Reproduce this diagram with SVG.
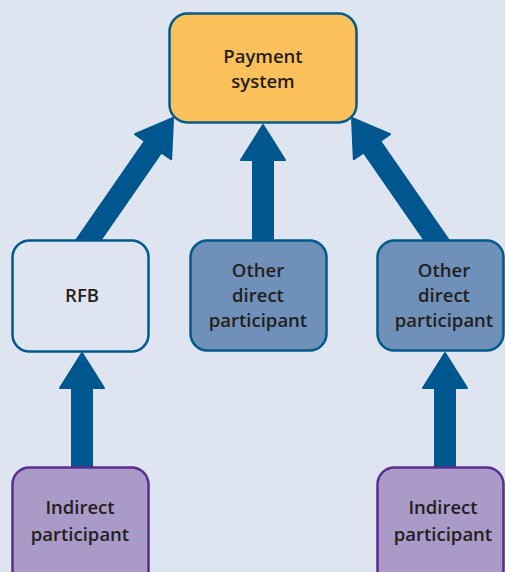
<svg xmlns="http://www.w3.org/2000/svg" width="505" height="572" viewBox="0 0 505 572">
<defs>
<style>
.bg{fill:#dee4f0}
.arrow{fill:#00568e;stroke:#00568e;stroke-width:2;stroke-linejoin:round}
.box{stroke-width:2.5}
.pay{fill:#fcc15b;stroke:#005a8c}
.rfb{fill:#dee4f0;stroke:#005a8c}
.dir{fill:#6f91b9;stroke:#005a8c}
.ind{fill:#a99ac8;stroke:#5a2d8f}
text{font-family:"Open Sans","Noto Sans","Liberation Sans",sans-serif;font-weight:600;font-size:18.5px;fill:#231f20;text-anchor:middle}
</style>
</defs>
<rect class="bg" x="0" y="0" width="505" height="572"/>
<g id="connectors">
<path class="arrow" transform="translate(173,118) rotate(34.7)" d="M0,0 L22,35 L10,35 L10,160 L-10,160 L-10,35 L-22,35 Z"/>
<path class="arrow" transform="translate(352,118) rotate(-34.7)" d="M0,0 L22,35 L10,35 L10,160 L-10,160 L-10,35 L-22,35 Z"/>
<path class="arrow" transform="translate(263,125)" d="M0,0 L22,35 L10,35 L10,125 L-10,125 L-10,35 L-22,35 Z"/>
<path class="arrow" transform="translate(82,353)" d="M0,0 L22,35 L10,35 L10,124 L-10,124 L-10,35 L-22,35 Z"/>
<path class="arrow" transform="translate(445,353)" d="M0,0 L22,35 L10,35 L10,124 L-10,124 L-10,35 L-22,35 Z"/>
</g>
<g id="payment-system">
<rect class="box pay" x="169.5" y="13.5" width="187" height="109" rx="18"/>
<text x="263" y="63">Payment</text>
<text x="263" y="88">system</text>
</g>
<g id="rfb">
<rect class="box rfb" x="12.5" y="240.5" width="136" height="111" rx="17"/>
<text x="82" y="302">RFB</text>
</g>
<g id="other-direct-1">
<rect class="box dir" x="190.5" y="240.5" width="136" height="110" rx="17"/>
<text x="258" y="277">Other</text>
<text x="258" y="302">direct</text>
<text x="258" y="327">participant</text>
</g>
<g id="other-direct-2">
<rect class="box dir" x="377.5" y="240.5" width="126" height="110" rx="17"/>
<text x="444" y="277">Other</text>
<text x="444" y="302">direct</text>
<text x="444" y="327">participant</text>
</g>
<g id="indirect-1">
<rect class="box ind" x="12.5" y="467.5" width="136" height="130" rx="17"/>
<text x="80" y="514">Indirect</text>
<text x="80" y="541">participant</text>
</g>
<g id="indirect-2">
<rect class="box ind" x="377.5" y="467.5" width="126" height="130" rx="17"/>
<text x="443" y="514">Indirect</text>
<text x="443" y="541">participant</text>
</g>
</svg>
